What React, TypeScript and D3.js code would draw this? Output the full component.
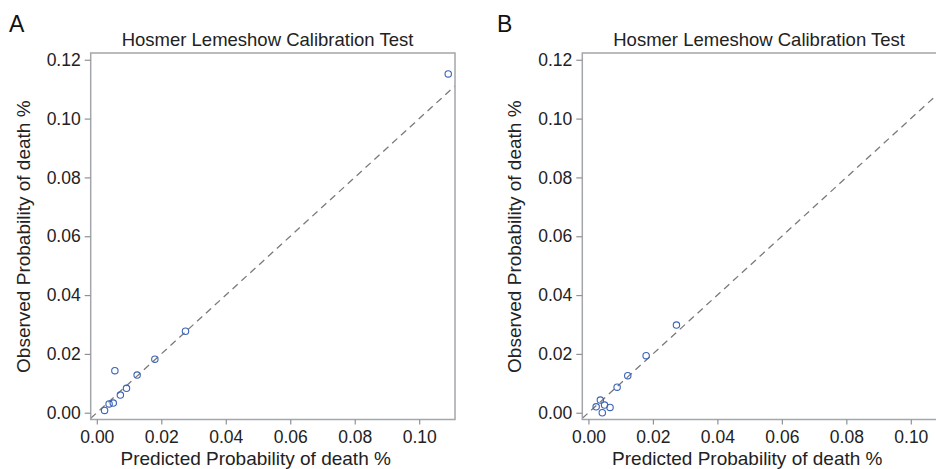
import * as d3 from "d3";
import { useEffect, useRef } from "react";

// panel A: predicted vs observed
const predA = [0.0024, 0.0038, 0.0051, 0.0056, 0.0073, 0.0092, 0.0125, 0.018, 0.0275, 0.109];
const obsA = [0.0008, 0.003, 0.0033, 0.0143, 0.006, 0.0083, 0.0128, 0.0182, 0.0277, 0.1152];

// panel B
const predB = [0.0024, 0.0037, 0.005, 0.0043, 0.0067, 0.0089, 0.0122, 0.0179, 0.0273, 0.1095];
const obsB = [0.002, 0.0043, 0.0026, 0.0, 0.0018, 0.0087, 0.0126, 0.0194, 0.0298, 0.1158];

const tickValues = [0, 0.02, 0.04, 0.06, 0.08, 0.1, 0.12];
const xTickValues = [0, 0.02, 0.04, 0.06, 0.08, 0.1];

const panelLabels = ["A", "B"];
const chartTitle = "Hosmer Lemeshow Calibration Test";
const xTitle = "Predicted Probability of death %";
const yTitle = "Observed Probability of death %";

const FONT = "'Liberation Sans', Arial, Helvetica, sans-serif";

const App = () => {
  const svgRef = useRef<SVGSVGElement | null>(null);

  useEffect(() => {
    document.body.style.margin = "0";
    document.body.style.overflow = "hidden";

    const svg = d3.select(svgRef.current);
    svg.selectAll("*").remove();

    const panels = [
      { label: panelLabels[0], pred: predA, obs: obsA, dx: 0 },
      { label: panelLabels[1], pred: predB, obs: obsB, dx: 491.6 },
    ];

    panels.forEach((p, i) => {
      const left = 90.7 + p.dx,
        right = 455 + p.dx,
        top = 53,
        bottom = 419.5;

      const x = d3.scaleLinear().domain([-0.0019, 0.1111]).range([left, right]);
      const y = d3.scaleLinear().domain([-0.0023, 0.1223]).range([bottom, top]);

      const g = svg.append("g");

      g.append("clipPath")
        .attr("id", "clip" + i)
        .append("rect")
        .attr("x", left)
        .attr("y", top)
        .attr("width", right - left)
        .attr("height", bottom - top);

      // y = x reference line
      const lo = x.domain()[0], hi = x.domain()[1];
      g.append("line")
        .attr("clip-path", `url(#clip${i})`)
        .attr("x1", x(lo))
        .attr("y1", y(lo))
        .attr("x2", x(hi))
        .attr("y2", y(hi))
        .attr("stroke", "#7a7a7a")
        .attr("stroke-width", 1.3)
        .attr("stroke-dasharray", "7,5");

      // frame
      g.append("rect")
        .attr("x", left)
        .attr("y", top)
        .attr("width", right - left)
        .attr("height", bottom - top)
        .attr("fill", "none")
        .attr("stroke", "#a3a6aa")
        .attr("stroke-width", 1.5);

      // y axis
      const yAxis = g.append("g")
        .attr("transform", "translate(" + left + ",0)")
        .call(d3.axisLeft(y).tickValues(tickValues).tickSize(6).tickPadding(4)
          .tickFormat(d3.format(".2f")));
      yAxis.select(".domain").remove();
      yAxis.selectAll("line").attr("stroke", "#8e9196").attr("stroke-width", 1.2);
      yAxis.selectAll("text")
        .attr("font-family", FONT)
        .attr("font-size", 17.5)
        .attr("fill", "#222");

      // x axis
      const xAxis = g.append("g")
        .attr("transform", "translate(0," + bottom + ")")
        .call(d3.axisBottom(x).tickValues(xTickValues).tickSize(5).tickPadding(6)
          .tickFormat(d3.format(".2f")));
      xAxis.select(".domain").remove();
      xAxis.selectAll("line").attr("stroke", "#8e9196").attr("stroke-width", 1.2);
      xAxis.selectAll("text")
        .attr("font-family", FONT)
        .attr("font-size", 17.5)
        .attr("fill", "#222");

      // points
      g.selectAll("circle")
        .data(p.pred.map((v, k) => [v, p.obs[k]]))
        .enter()
        .append("circle")
        .attr("cx", (d) => x(d[0]))
        .attr("cy", (d) => y(d[1]))
        .attr("r", 3.2)
        .attr("fill", "none")
        .attr("stroke", "#3b63b8")
        .attr("stroke-width", 1.1);

      g.append("text")
        .attr("x", 267.5 + p.dx)
        .attr("y", 46)
        .attr("text-anchor", "middle")
        .attr("font-family", FONT)
        .attr("font-size", 18.5)
        .attr("fill", "#222")
        .text(chartTitle);

      g.append("text")
        .attr("x", left + 165)
        .attr("y", 465)
        .attr("text-anchor", "middle")
        .attr("font-family", FONT)
        .attr("font-size", 19)
        .attr("fill", "#222")
        .text(xTitle);

      g.append("text")
        .attr("transform", "translate(" + (29.5 + p.dx) + ",236.7) rotate(-90)")
        .attr("text-anchor", "middle")
        .attr("font-family", FONT)
        .attr("font-size", 19)
        .attr("fill", "#222")
        .text(yTitle);

      g.append("text")
        .attr("x", i === 0 ? 9 : 497)
        .attr("y", 32)
        .attr("font-family", FONT)
        .attr("font-size", 23)
        .attr("fill", "#111")
        .text(p.label);
    });
  }, []);

  return (
    <svg ref={svgRef} width={936} height={469} style={{ display: "block", background: "#fff" }} />
  );
};

export default App;
